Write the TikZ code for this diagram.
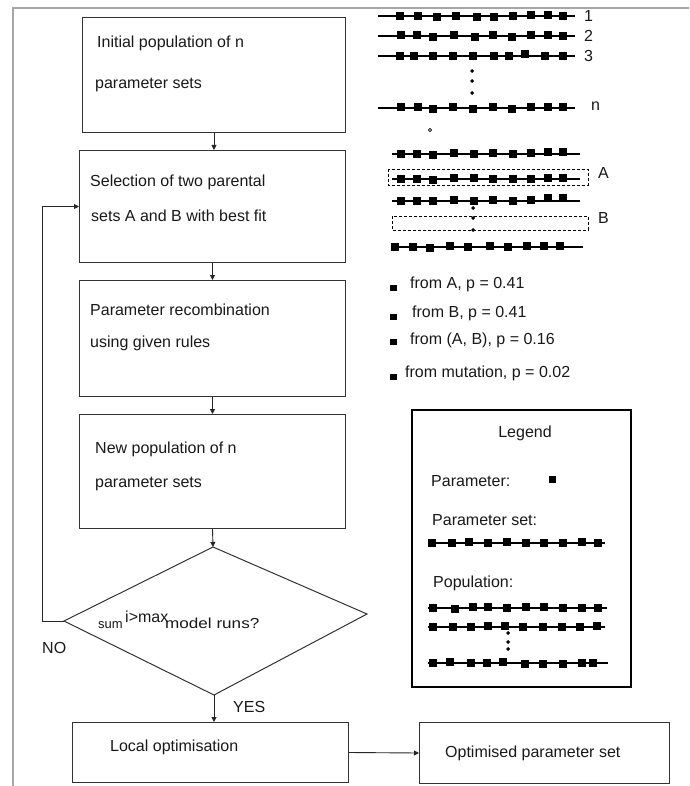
\documentclass[tikz,border=0pt]{standalone}
\usepackage{fontspec}
\setmainfont{Liberation Sans}
\usetikzlibrary{arrows.meta}
\newcommand{\prow}[4]{%
  \draw[rowline] (#1,#3) -- (#2,#3);
  \foreach \px/\dy in {#4} {\fill[black] (\px-3.6,#3+\dy-3.6) rectangle ++(7.2,7.2);}
}
\newcommand{\pdot}[2]{\fill[black] (#1,#2-2) -- (#1+2,#2) -- (#1,#2+2) -- (#1-2,#2) -- cycle;}
\begin{document}
\begin{tikzpicture}[x=1pt,y=-1pt,
  box/.style={draw=black!80,line width=1pt,inner sep=0pt,anchor=north west},
  arr/.style={draw=black!85,line width=0.9pt,-{Triangle[length=5pt,width=5pt]}},
  txt/.style={anchor=base west,inner sep=0pt,font=\fontsize{16}{18}\selectfont,text=black!90},
  rowline/.style={draw=black,line width=1.1pt},
  dbox/.style={draw=black,line width=0.8pt,dashed,dash pattern=on 3pt off 2pt}]
\useasboundingbox (0,0) rectangle (689,786);
\fill[white] (0,0) rectangle (689,786);
% outer frame
\draw[gray!70,line width=1.5pt] (13,786) -- (13,8) -- (689,8);
% flow boxes
\node[box,minimum width=263pt,minimum height=115pt] (b1) at (82,17) {};
\node[box,minimum width=266pt,minimum height=112pt] (b2) at (79,150) {};
\node[box,minimum width=266pt,minimum height=116pt] (b3) at (79,280) {};
\node[box,minimum width=266pt,minimum height=114pt] (b4) at (79,414) {};
\node[box,minimum width=276pt,minimum height=60pt] (lo) at (72,722) {};
\node[box,minimum width=250pt,minimum height=61pt] (op) at (419,722) {};
\coordinate (dt) at (213,547);
\coordinate (dr) at (367,614);
\coordinate (db) at (214,695);
\coordinate (dl) at (64,621);
\coordinate (lp) at (42,621);
\draw[black!80,line width=1pt] (dt) -- (dr) -- (db) -- (dl) -- cycle;
% texts
\node[txt] (t11) at (97,48) {Initial population of n};
\node[txt] (t12) at (95,89) {parameter sets};
\node[txt] (t21) at (90,187) {Selection of two parental};
\node[txt] (t22) at (91,222) {sets A and B with best fit};
\node[txt] (t31) at (90,315) {Parameter recombination};
\node[txt] (t32) at (90,347) {using given rules};
\node[txt] (t41) at (95,453) {New population of n};
\node[txt] (t42) at (95,487) {parameter sets};
\node[txt] (tlo) at (110,751) {Local optimisation};
\node[txt] (top) at (445,757) {Optimised parameter set};
\node[txt,font=\fontsize{13}{15}\selectfont] (ts1) at (98,628) {sum};
\node[txt] (ts2) at (125,622) {i>max};
\node[txt,font=\fontsize{14.5}{16}\selectfont] (ts3) at (165,628) {\scalebox{1.18}[1]{model runs?}};
\node[txt] (tno) at (42,653) {NO};
\node[txt] (tyes) at (233,712) {YES};
% connectors
\draw[arr] (b1.south) -- (b1.south |- b2.north);
\draw[arr] (b2.south) -- (b2.south |- b3.north);
\draw[arr] (b3.south) -- (b3.south |- b4.north);
\draw[arr] (b4.south) -- (dt);
\draw[arr] (db) -- (db |- lo.north);
\draw[arr] (dl) -- (lp) |- (b2.west);
\draw[arr] (lo.east) -- (op.west);
% initial population
\prow{378}{575}{16}{400/0,418/0,437/1,456/0,477/1,494/1,513/0,531/-1,548/-1,563/0}
\prow{378}{575}{36}{401/-1,417/-1,433/1,454/-1,475/1,493/-1,512/1,531/-1,548/-1,563/0}
\prow{378}{575}{56}{400/0,414/0,433/0,453/0,473/0,494/0,509/0,525/-2,545/0,563/0}
\prow{378}{575}{108}{401/-1,418/-1,433/1,453/-1,473/1,493/-1,512/1,531/-1,548/-1,563/-1}
\pdot{472}{71}\pdot{472}{81}\pdot{472}{93}
\draw[black,line width=0.6pt] (430,130) circle (1.6);
\node[txt,anchor=west] (l1) at (584,16) {1};
\node[txt,anchor=west] (l2) at (584,36) {2};
\node[txt,anchor=west] (l3) at (584,56) {3};
\node[txt,anchor=west] (ln) at (591,106) {n};
% selection
\prow{392}{580}{154}{401/0,417/0,433/1,454/-1,474/0,493/-1,513/0,531/-1,548/-2,563/-2}
\draw[dbox] (388,169) rectangle (588,185);
\prow{392}{580}{179}{401/0,417/0,433/1,454/-1,474/-1,493/0,513/0,531/0,548/-1,563/-1}
\prow{392}{580}{201}{401/0,417/0,433/0,454/-1,474/0,493/-1,513/0,531/-1,548/-3,563/-3}
\draw[dbox] (392,216) rectangle (588,230);
\pdot{473}{208}\pdot{473}{218}\pdot{473}{230}
\prow{392}{583}{247}{395/0,413/0,430/1,450/-1,468/0,490/-1,508/0,527/-1,544/-1,560/-1}
\node[txt,anchor=west] (la) at (598,173) {A};
\node[txt,anchor=west] (lb) at (598,218) {B};
% probabilities
\fill[black] (390,285) rectangle ++(6.5,6);
\fill[black] (390,314) rectangle ++(6.5,6);
\fill[black] (390,339) rectangle ++(6.5,6);
\fill[black] (390,374) rectangle ++(6.5,6);
\node[txt] (p1) at (410,288) {from A, p = 0.41};
\node[txt] (p2) at (412,317) {from B, p = 0.41};
\node[txt] (p3) at (410,344) {from (A, B), p = 0.16};
\node[txt] (p4) at (405,377) {from mutation, p = 0.02};
% legend
\node[box,draw=black,line width=2pt,minimum width=219pt,minimum height=277pt] (leg) at (411,409) {};
\node[txt,anchor=base] (lg) at (525,437) {Legend};
\node[txt] (lg1) at (431,486) {Parameter:};
\fill[black] (549,476) rectangle ++(6.5,6.5);
\node[txt] (lg2) at (432,525) {Parameter set:};
\prow{428}{605}{543}{432/0,452/0,469/-1,488/0,507/-1,526/0,544/0,563/0,582/-1,598/0}
\node[txt] (lg3) at (433,587) {Population:};
\prow{428}{607}{608}{433/0,455/1,473/-1,488/-1,507/0,526/-1,544/-1,563/0,582/0,598/0}
\prow{428}{605}{627}{433/0,453/0,471/0,488/-1,505/-1,523/0,543/0,562/0,580/0,597/-1}
\pdot{508}{633}\pdot{508}{642}\pdot{508}{649}
\prow{428}{608}{663}{433/0,450/-1,471/0,487/0,503/-1,525/1,543/1,563/1,582/0,593/0}
\end{tikzpicture}
\end{document}
